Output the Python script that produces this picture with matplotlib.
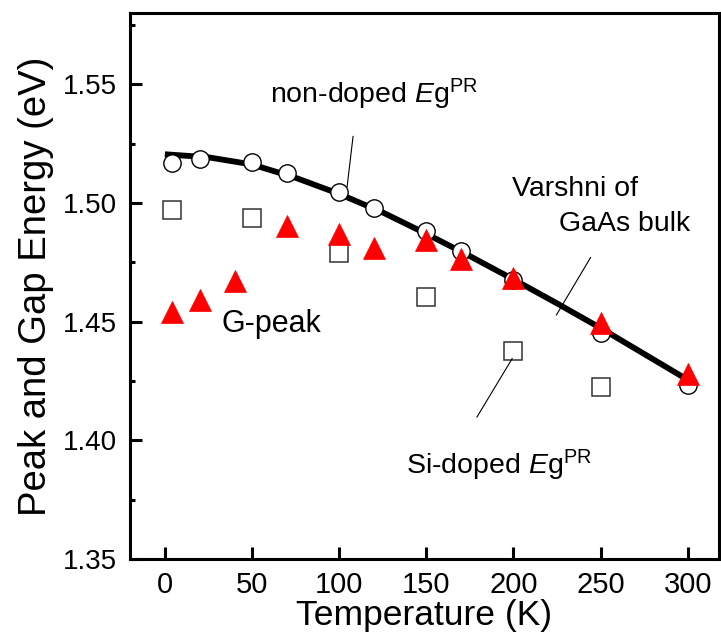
import matplotlib
matplotlib.use("Agg")
import matplotlib.pyplot as plt
from matplotlib.ticker import MultipleLocator

plt.rcParams["font.family"] = "Liberation Sans"
plt.rcParams["mathtext.fontset"] = "custom"
plt.rcParams["mathtext.rm"] = "Liberation Sans"
plt.rcParams["mathtext.it"] = "Liberation Sans:italic"

# Non-doped sample, PR band gap (open circles)
temp_nondoped = [4, 20, 50, 70, 100, 120, 150, 170, 200, 250, 300]
eg_nondoped = [1.5169, 1.5183, 1.5173, 1.5124, 1.5045, 1.4977,
               1.4880, 1.4796, 1.4676, 1.4453, 1.4232]

# G-peak position (red triangles)
temp_gpeak = [4, 20, 40, 70, 100, 120, 150, 170, 200, 250, 300]
e_gpeak = [1.4542, 1.4591, 1.4669, 1.4901, 1.4869, 1.4811,
           1.4842, 1.4762, 1.4684, 1.4493, 1.4278]

# Si-doped sample, PR band gap (open squares)
temp_sidoped = [4, 50, 100, 150, 200, 250]
eg_sidoped = [1.4972, 1.4937, 1.4787, 1.4605, 1.4377, 1.4223]

# Varshni curve of bulk GaAs
temp_varshni = [0, 25, 50, 75, 100, 125, 150, 175, 200, 225, 250, 275, 300]
eg_varshni = [1.5205, 1.5192, 1.5162, 1.5106, 1.5038, 1.4960, 1.4870,
              1.4776, 1.4678, 1.4577, 1.4473, 1.4364, 1.4255]

x_ticks = [0, 50, 100, 150, 200, 250, 300]
y_ticks = [1.35, 1.40, 1.45, 1.50, 1.55]

fig = plt.figure(figsize=(7.21, 6.35), dpi=100)
ax = fig.add_axes([130 / 721, 1 - 559 / 635, (719 - 130) / 721, (559 - 13) / 635])

ax.plot(temp_varshni, eg_varshni, color="black", lw=4.2, zorder=2,
        solid_capstyle="butt")
ax.plot(temp_nondoped, eg_nondoped, ls="none", marker="o", ms=12.5,
        mfc="white", mec="black", mew=1.0, zorder=3)
ax.plot(temp_sidoped, eg_sidoped, ls="none", marker="s", ms=13.5,
        mfc="white", mec="#333333", mew=1.1, zorder=4)
ax.plot(temp_gpeak, e_gpeak, ls="none", marker="^", ms=15.5,
        mfc="#ff0000", mec="#ff0000", mew=0.5, zorder=5)

# Labels and pointer lines
txt_kw = dict(fontsize=20.5, ha="left", va="baseline", color="black")
ax.text(60.3, 1.5418, r"non-doped $\mathit{E}\mathrm{g}^{\mathrm{PR}}$", **txt_kw)
ax.plot([108.0, 104.6], [1.5280, 1.5069], color="black", lw=0.8, zorder=6)

ax.text(199.3, 1.5028, "Varshni of", **txt_kw)
ax.text(225.9, 1.4880, "GaAs bulk", **txt_kw)
ax.plot([244.3, 224.7], [1.4770, 1.4528], color="black", lw=0.8, zorder=6)

ax.text(138.5, 1.3856, r"Si-doped $\mathit{E}\mathrm{g}^{\mathrm{PR}}$", **txt_kw)
ax.plot([199.3, 179.1], [1.4344, 1.4098], color="black", lw=0.8, zorder=6)

ax.text(32.6, 1.4456, "G-peak", fontsize=22, ha="left", va="baseline")

ax.set_xlim(-20, 318)
ax.set_ylim(1.35, 1.58)
ax.set_xticks(x_ticks)
ax.set_yticks(y_ticks)
ax.set_yticklabels([f"{v:.2f}" for v in y_ticks])
ax.yaxis.set_minor_locator(MultipleLocator(0.025))

for side in ax.spines.values():
    side.set_linewidth(2.2)

ax.tick_params(which="both", direction="in", top=False, right=False)
ax.tick_params(axis="x", which="major", length=8.5, width=2.2, pad=8.5,
               labelsize=21)
ax.tick_params(axis="y", which="major", length=8.5, width=2.2, pad=9.5,
               labelsize=20)
ax.tick_params(axis="y", which="minor", length=3.8, width=2.2)

ax.set_xlabel("Temperature (K)", fontsize=25.5, labelpad=0)
ax.set_ylabel("Peak and Gap Energy (eV)", fontsize=27.5, labelpad=6)

fig.savefig("out.png", dpi=100)
